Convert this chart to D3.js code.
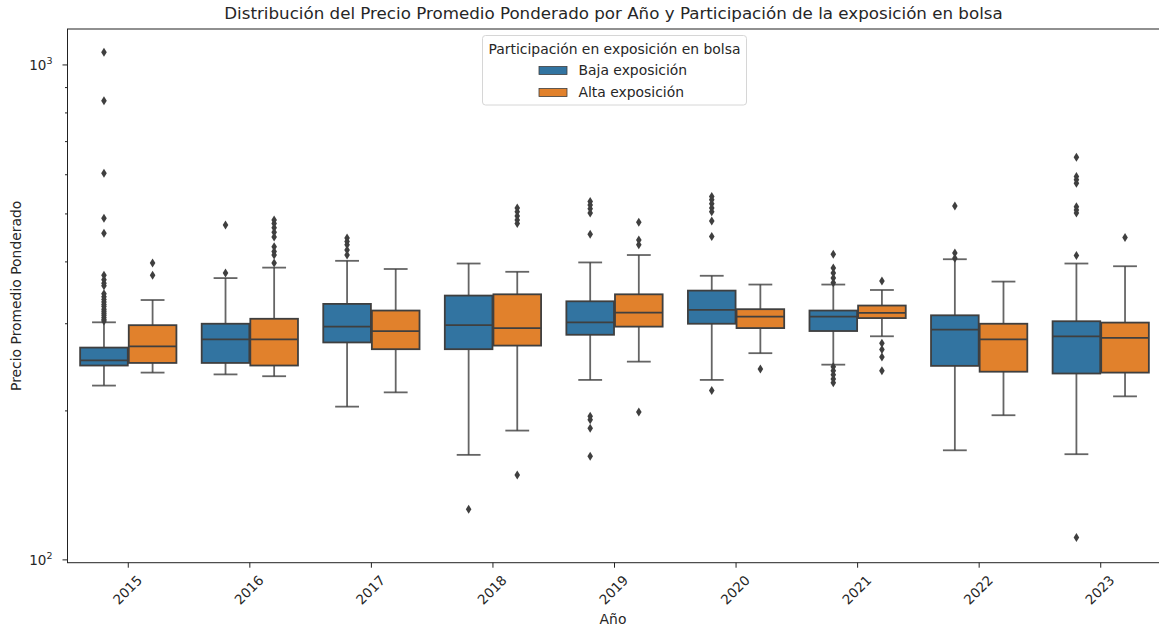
<!DOCTYPE html>
<html>
<head>
<meta charset="utf-8">
<script src="https://cdn.jsdelivr.net/npm/d3@7"></script>
<style>
  body { margin: 0; background: #fff; }
  svg { font-family: "DejaVu Sans", sans-serif; }
</style>
</head>
<body>
<svg width="1159" height="628"></svg>
<script>
// categories and series
var years = ["2015", "2016", "2017", "2018", "2019", "2020", "2021", "2022", "2023"];
var groups = ["Baja exposición", "Alta exposición"];
var groupColors = ["#3274a1", "#e1812c"];

// [lower whisker, q1, median, q3, upper whisker]
var bajaStats = [
  [225, 247, 253, 268.5, 302],
  [237, 250, 279, 300, 371],
  [204, 275, 296, 329, 402],
  [163, 266.5, 298, 342, 397],
  [231, 285, 302, 333, 399],
  [231, 300, 320, 350, 375],
  [248, 290, 310, 319, 360],
  [166.5, 246.6, 292, 312, 405],
  [163.5, 238, 283, 303.5, 397]
];
var altaStats = [
  [239, 250, 270, 298, 335],
  [235, 247, 279, 307, 389.5],
  [218, 266.5, 290, 319, 387],
  [182.5, 271, 294, 344, 382],
  [251.5, 296, 316, 344, 413],
  [261.6, 294, 310, 321, 360],
  [283, 308, 315.5, 326.5, 351],
  [196, 240, 279, 300, 365],
  [214, 239, 281, 301.6, 392]
];

var bajaOutliers = [
  [1061, 847, 604, 490, 457, 376, 368, 362, 358, 345, 340, 336, 332, 328, 325, 321, 318, 315, 312, 309, 306, 304],
  [475, 380],
  [447, 440, 433, 423, 413],
  [126.6],
  [530, 521, 512, 502, 455, 195, 192, 184.5, 162],
  [542, 534, 524, 514, 505, 484, 450, 220],
  [414.5, 389, 380, 371, 363, 245.5, 241, 236.5, 232, 228],
  [519, 417, 407],
  [651, 595, 586, 577, 517, 509, 502, 412, 111]
];
var altaOutliers = [
  [398, 376],
  [486, 478, 469, 459, 449, 429, 420, 413, 398],
  [],
  [514, 505, 495, 486, 478, 148.5],
  [481, 443, 433, 199],
  [243],
  [366, 274, 266, 257, 241],
  [],
  [448]
];

var yMajor = [100, 1000];
var yMinor = [200, 300, 400, 500, 600, 700, 800, 900];

var svg = d3.select("svg"),
  plotLeft = 67.5,
  plotRight = 1161.5,
  plotTop = 29,
  plotBottom = 562.7,
  edge = "#3f3f3f",
  textColor = "#262626";

var x = d3.scaleBand().domain(years).range([plotLeft, plotRight]).padding(0);
var y = d3.scaleLog().domain([98.7, 1182]).range([plotBottom, plotTop]);
var sub = d3.scaleBand().domain(groups).range([0, x.bandwidth() * 0.8]).padding(0);
var boxW = sub.bandwidth() * 0.98;

// boxes
var series = [
  { name: groups[0], color: groupColors[0], stats: bajaStats, out: bajaOutliers },
  { name: groups[1], color: groupColors[1], stats: altaStats, out: altaOutliers }
];

series.forEach(function (s) {
  var g = svg.append("g").attr("class", "series");
  years.forEach(function (yr, i) {
    var st = s.stats[i];
    var cx = x(yr) + x.bandwidth() * 0.1 + sub(s.name) + sub.bandwidth() / 2;
    var b = g.append("g");
    // whiskers
    b.append("line")
      .attr("x1", cx).attr("x2", cx)
      .attr("y1", y(st[0])).attr("y2", y(st[1]))
      .attr("stroke", edge).attr("stroke-width", 1.8).attr("stroke-opacity", 0.8);
    b.append("line")
      .attr("x1", cx).attr("x2", cx)
      .attr("y1", y(st[3])).attr("y2", y(st[4]))
      .attr("stroke", edge).attr("stroke-width", 1.8).attr("stroke-opacity", 0.8);
    [st[0], st[4]].forEach(function (v) {
      b.append("line")
        .attr("x1", cx - boxW / 4).attr("x2", cx + boxW / 4)
        .attr("y1", y(v)).attr("y2", y(v))
        .attr("stroke", edge).attr("stroke-width", 1.8).attr("stroke-opacity", 0.8);
    });
    b.append("rect")
      .attr("x", cx - boxW / 2)
      .attr("y", y(st[3]))
      .attr("width", boxW)
      .attr("height", y(st[1]) - y(st[3]))
      .attr("fill", s.color)
      .attr("stroke", edge)
      .attr("stroke-width", 1.8);
    b.append("line")
      .attr("x1", cx - boxW / 2).attr("x2", cx + boxW / 2)
      .attr("y1", y(st[2])).attr("y2", y(st[2]))
      .attr("stroke", edge).attr("stroke-width", 1.8);
    // fliers as thin diamonds
    b.selectAll("path")
      .data(s.out[i])
      .enter().append("path")
      .attr("d", function (v) {
        var py = y(v);
        return "M" + cx + "," + (py - 4.5) + "L" + (cx + 2.8) + "," + py +
          "L" + cx + "," + (py + 4.5) + "L" + (cx - 2.8) + "," + py + "Z";
      })
      .attr("fill", edge);
  });
});

// spines
var ax = svg.append("g").attr("class", "axes");
ax.append("rect")
  .attr("x", plotLeft).attr("y", plotTop)
  .attr("width", plotRight - plotLeft).attr("height", plotBottom - plotTop)
  .attr("fill", "none").attr("stroke", "#222").attr("stroke-width", 1);

// y axis, log ticks
ax.selectAll(".ymaj")
  .data(yMajor)
  .enter().append("line")
  .attr("x1", plotLeft - 5).attr("x2", plotLeft)
  .attr("y1", function (d) { return y(d); })
  .attr("y2", function (d) { return y(d); })
  .attr("stroke", "#222");
ax.selectAll(".ymin")
  .data(yMinor)
  .enter().append("line")
  .attr("x1", plotLeft - 2.5).attr("x2", plotLeft)
  .attr("y1", function (d) { return y(d); })
  .attr("y2", function (d) { return y(d); })
  .attr("stroke", "#222");
var ylab = ax.selectAll(".ylab")
  .data(yMajor)
  .enter().append("text")
  .attr("x", plotLeft - 15)
  .attr("y", function (d) { return y(d) + 5; })
  .attr("text-anchor", "end")
  .attr("font-size", 13.5)
  .attr("fill", textColor)
  .text("10");
ylab.append("tspan")
  .attr("font-size", 9.5)
  .attr("dy", -5.5)
  .text(function (d) { return Math.round(Math.log10(d)); });

// x axis
ax.selectAll(".xtick")
  .data(years)
  .enter().append("line")
  .attr("x1", function (d) { return x(d) + x.bandwidth() / 2; })
  .attr("x2", function (d) { return x(d) + x.bandwidth() / 2; })
  .attr("y1", plotBottom).attr("y2", plotBottom + 5)
  .attr("stroke", "#222");
ax.selectAll(".xlab")
  .data(years)
  .enter().append("text")
  .attr("transform", function (d) {
    return "translate(" + (x(d) + x.bandwidth() / 2 - 1) + "," + (plotBottom + 27) + ") rotate(-45)";
  })
  .attr("text-anchor", "middle")
  .attr("dominant-baseline", "central")
  .attr("font-size", 13.5)
  .attr("fill", textColor)
  .text(function (d) { return d; });

// labels and title
svg.append("text")
  .attr("x", 613).attr("y", 624)
  .attr("text-anchor", "middle")
  .attr("font-size", 13.9)
  .attr("fill", textColor)
  .text("Año");
svg.append("text")
  .attr("transform", "translate(21," + ((plotTop + plotBottom) / 2) + ") rotate(-90)")
  .attr("text-anchor", "middle")
  .attr("font-size", 13.9)
  .attr("fill", textColor)
  .text("Precio Promedio Ponderado");
svg.append("text")
  .attr("x", 613.5).attr("y", 19)
  .attr("text-anchor", "middle")
  .attr("font-size", 16.7)
  .attr("fill", textColor)
  .text("Distribución del Precio Promedio Ponderado por Año y Participación de la exposición en bolsa");

// legend
var lg = svg.append("g").attr("class", "legend");
lg.append("rect")
  .attr("x", 482.5).attr("y", 35.5)
  .attr("width", 264).attr("height", 69.5)
  .attr("rx", 3)
  .attr("fill", "#fff").attr("fill-opacity", 0.8)
  .attr("stroke", "#d6d6d6");
lg.append("text")
  .attr("x", 614.5).attr("y", 54)
  .attr("text-anchor", "middle")
  .attr("font-size", 13.9)
  .attr("fill", textColor)
  .text("Participación en exposición en bolsa");
groups.forEach(function (gname, i) {
  lg.append("rect")
    .attr("x", 539).attr("y", 66.5 + i * 22)
    .attr("width", 28).attr("height", 8)
    .attr("fill", groupColors[i])
    .attr("stroke", edge).attr("stroke-width", 0.8);
  lg.append("text")
    .attr("x", 578.5).attr("y", 75 + i * 22)
    .attr("font-size", 13.9)
    .attr("fill", textColor)
    .text(gname);
});
</script>
</body>
</html>
